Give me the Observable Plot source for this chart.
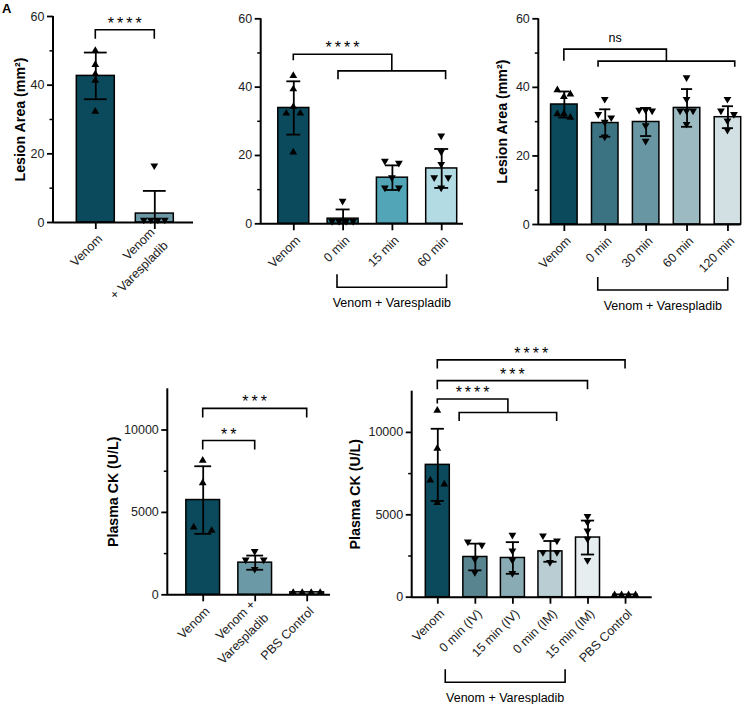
<!DOCTYPE html>
<html><head><meta charset="utf-8">
<script src="https://cdn.jsdelivr.net/npm/d3@7"></script>
<script src="https://cdn.jsdelivr.net/npm/@observablehq/plot@0.6"></script>
<style>
html,body{margin:0;padding:0;background:#fff;}
#fig{position:relative;width:756px;height:704px;overflow:hidden;font-family:"Liberation Sans",Arial,sans-serif;}
.letter{position:absolute;left:2px;top:1px;font:bold 13px "Liberation Sans",Arial,sans-serif;color:#000;}
</style></head><body>
<div id="fig"><div class="letter">A</div></div>
<script>
// ---------------- DATA ----------------
// Panel A (top left)
const aCategories = ["Venom", "Venom\n+ Varespladib"];
const aMeans = [42.7, 2.6];
const aSD = [6.8, 6.6];
const aPoints = [[50.1, 46.0, 43.3, 41.4, 32.4], [16.2, 0.4, 0.4, 0.4, 0.4]];
const aMarkers = ["up", "down"];
const aColors = ["#0b4a5c", "#6b99a5"];
const aTicks = [0, 20, 40, 60];
const aMinor = [10, 30, 50];
const aBrackets = [["Venom", "Venom\n+ Varespladib", 56, "****"]];

// Panel B (top middle)
const bCategories = ["Venom", "0 min", "15 min", "60 min"];
const bMeans = [33.9, 1.5, 13.5, 16.2];
const bSD = [7.8, 2.7, 3.6, 5.7];
const bPoints = [[43.4, 39.5, 34.3, 32.4, 32.4, 21.0], [6.3, 0.4, 0.4, 0.4, 0.4], [18.0, 17.4, 13.2, 10.2, 10.2], [25.4, 20.7, 17.1, 13.2, 13.2, 10.2]];
const bMarkers = ["up", "down", "down", "down"];
const bColors = ["#0b4a5c", "#2d7d93", "#52a5b7", "#b3dbe3"];
const bTicks = [0, 20, 40, 60];
const bMinor = [10, 30, 50];
const bNested = [["Venom", "0 min", "60 min", 49.5, 44.6, "****"]];
const bGroup = ["0 min", "60 min", "Venom + Varespladib"];

// Panel C (top right)
const cCategories = ["Venom", "0 min", "30 min", "60 min", "120 min"];
const cMeans = [35.0, 29.6, 29.9, 34.0, 31.3];
const cSD = [3.8, 4.0, 4.1, 5.5, 3.2];
const cPoints = [[39.3, 38.1, 37.3, 32.3, 32.3, 31.3], [36.2, 31.8, 30.8, 29.5, 25.2], [33.0, 32.8, 33.0, 28.5, 24.0], [42.5, 36.2, 32.8, 32.8, 32.8, 28.9], [36.2, 32.8, 31.8, 29.9, 27.2]];
const cMarkers = ["up", "down", "down", "down", "down"];
const cColors = ["#0b4a5c", "#3b7382", "#6896a2", "#9cbac2", "#d2e0e3"];
const cTicks = [0, 20, 40, 60];
const cMinor = [10, 30, 50];
const cNested = [["Venom", "0 min", "120 min", 51.0, 47.5, "ns"]];
const cGroup = ["0 min", "120 min", "Venom + Varespladib"];

// Panel D (bottom left)
const dCategories = ["Venom", "Venom +\nVarespladib", "PBS Control"];
const dMeans = [5750, 1950, 150];
const dSD = [2050, 430, 0];
const dPoints = [[8170, 6800, 4120, 3910], [2560, 2050, 2050, 1480], [150, 150, 150, 150]];
const dMarkers = ["up", "down", "up"];
const dColors = ["#0b4a5c", "#6b99a5", "#c9d9dc"];
const dTicks = [0, 5000, 10000];
const dMinor = [2500, 7500];
const dBrackets = [["Venom", "Venom +\nVarespladib", 9330, "**"], ["Venom", "PBS Control", 11280, "***"]];

// Panel E (bottom right)
const eCategories = ["Venom", "0 min (IV)", "15 min (IV)", "0 min (IM)", "15 min (IM)", "PBS Control"];
const eMeans = [8030, 2440, 2380, 2780, 3620, 150];
const eSD = [2190, 810, 960, 630, 1030, 0];
const ePoints = [[11340, 9040, 7110, 6870, 5750], [3290, 3090, 2240, 1430], [3700, 2740, 2180, 1370], [3660, 3350, 2650, 2650, 2040], [4840, 4470, 3960, 3460, 2170], [150, 150, 150, 150]];
const eMarkers = ["up", "down", "down", "down", "down", "up"];
const eColors = ["#0b4a5c", "#57848f", "#89abb4", "#b9cdd2", "#e6eef0", "#f4f7f8"];
const eTicks = [0, 5000, 10000];
const eMinor = [2500, 7500];
const eBrackets = [["Venom", "15 min (IM)", 13110, "***"], ["Venom", "PBS Control", 14370, "****"]];
const eNested = [["Venom", "0 min (IV)", "0 min (IM)", 12000, 11180, "****"]];
const eGroup = ["0 min (IV)", "15 min (IM)", "Venom + Varespladib"];

// ---------------- LAYOUT / STYLE ----------------
const panels = [
  {cats: aCategories, means: aMeans, sd: aSD, points: aPoints, markers: aMarkers, colors: aColors, ticks: aTicks, minor: aMinor,
   brackets: aBrackets, nested: [], group: null, title: "Lesion Area (mm²)",
   left: 0, top: 0, width: 200, height: 320, L: 53, R: 193, c0: 95.3, step: 59, bw: 38, y0: 222, yTop: 16, yMax: 60,
   titleDx: -33, capFrac: 0.6, jitter: 7, drop: 9},
  {cats: bCategories, means: bMeans, sd: bSD, points: bPoints, markers: bMarkers, colors: bColors, ticks: bTicks, minor: bMinor,
   brackets: [], nested: bNested, group: bGroup, title: null,
   left: 200, top: 0, width: 270, height: 320, L: 60.7, R: 263, c0: 93.3, step: 49.3, bw: 31, y0: 223.3, yTop: 18.3, yMax: 60,
   capFrac: 0.45, jitter: 7, drop: 8.3, leftDrop: 6, lowOff: [-4.6, 4.4], groupOff: [-5.6, 5.4], groupY: 287.3},
  {cats: cCategories, means: cMeans, sd: cSD, points: cPoints, markers: cMarkers, colors: cColors, ticks: cTicks, minor: cMinor,
   brackets: [], nested: cNested, group: cGroup, title: "Lesion Area (mm²)",
   left: 470, top: 0, width: 286, height: 320, L: 68.3, R: 270.7, c0: 94, step: 40.9, bw: 26.5, y0: 224, yTop: 18.3, yMax: 60,
   titleDx: -36.3, capFrac: 0.42, jitter: 6.5, drop: 5.7, leftDrop: 11.7, lowOff: [-6.7, 7.3], groupOff: [-7, 0.3], groupY: 290},
  {cats: dCategories, means: dMeans, sd: dSD, points: dPoints, markers: dMarkers, colors: dColors, ticks: dTicks, minor: dMinor,
   brackets: dBrackets, nested: [], group: null, title: "Plasma CK (U/L)",
   left: 60, top: 335, width: 270, height: 369, L: 107.3, R: 270, c0: 142.7, step: 52, bw: 33.7, y0: 259.3, yTop: 53.3, yMax: 12500,
   titleDx: -54.3, capFrac: 0.5, jitter: 9, drop: 9},
  {cats: eCategories, means: eMeans, sd: eSD, points: ePoints, markers: eMarkers, colors: eColors, ticks: eTicks, minor: eMinor,
   brackets: eBrackets, nested: eNested, group: eGroup, title: "Plasma CK (U/L)",
   left: 330, top: 335, width: 426, height: 369, L: 81.7, R: 321.7, c0: 107.3, step: 37.55, bw: 24, y0: 261.7, yTop: 55.7, yMax: 12500,
   titleDx: -56.7, capFrac: 0.55, jitter: 7, drop: 8.5, leftDrop: 4.5, lowOff: [-15.7, 6.7], groupOff: [-29.6, -22.4], groupY: 347.3}
];

const FONT = "Liberation Sans, Arial, Helvetica, sans-serif";
const TICK_FONT = 12.5;
const UP = "M0,-3.7L3.9,3L-3.9,3Z";
const DOWN = "M0,3.7L3.9,-3L-3.9,-3Z";

function bandOpts(L, R, c0, s, w, n) {
  const pi = 1 - w / s;
  const po = Math.max(0, ((R - L) / s - n + pi) / 2);
  const align = po > 0 ? Math.max(0, Math.min(1, (c0 - w / 2 - L) / (2 * po * s))) : 0.5;
  return {type: "band", domain: null, range: [L, R], paddingInner: pi, paddingOuter: po, align, round: false, label: null};
}
const center = (x, c) => x(c) + (typeof x.bandwidth === "function" ? x.bandwidth() / 2 : 0);

function spread(ys, s, th = 6) {
  const order = ys.map((_, i) => i).sort((a, b) => ys[a] - ys[b]);
  const off = new Array(ys.length).fill(0);
  let k = 0;
  while (k < order.length) {
    const row = [order[k]];
    let j = k + 1;
    while (j < order.length && ys[order[j]] - ys[order[k]] < th) row.push(order[j++]);
    const m = row.length;
    const slots = m === 2 ? [-s, s] : d3.range(m).map(r => (r - (m - 1) / 2) * s);
    slots.sort((a, b) => Math.abs(a) - Math.abs(b) || a - b);
    row.forEach((idx, r) => off[idx] = slots[r]);
    k = j;
  }
  return off;
}

function pointsMark(p) {
  return (index, {x, y}) => {
    const g = d3.create("svg:g").attr("fill", "black");
    p.cats.forEach((c, i) => {
      const ys = p.points[i].map(v => y(v));
      const offs = spread(ys, p.jitter);
      ys.forEach((py, k) => {
        g.append("path").attr("transform", `translate(${center(x, c) + offs[k]},${py})`)
          .attr("d", p.markers[i] === "up" ? UP : DOWN);
      });
    });
    return g.node();
  };
}

function yAxisLine(p) {
  return (index, {y}, values, dims) => {
    const g = d3.create("svg:g");
    g.append("line").attr("x1", dims.marginLeft).attr("x2", dims.marginLeft)
      .attr("y1", y(0) + 1).attr("y2", y(p.yMax)).attr("stroke", "black").attr("stroke-width", 2);
    return g.node();
  };
}

function label(g, x, yLine, text) {
  const stars = text.startsWith("*");
  g.append("text").attr("x", x + (stars ? 1.5 : 0)).attr("y", stars ? yLine - 1 : yLine - 7.5)
    .attr("text-anchor", "middle").attr("fill", "black").attr("stroke", "none")
    .attr("font-size", stars ? 16 : 12.5).attr("letter-spacing", stars ? 3 : 0)
    .attr("font-family", FONT).text(text);
}

function bracketMark(p) {
  return (index, {x, y}) => {
    const g = d3.create("svg:g").attr("fill", "none").attr("stroke", "black").attr("stroke-width", 1.6);
    for (const [a, b, v, t] of p.brackets) {
      const xa = center(x, a), xb = center(x, b), yy = y(v);
      g.append("path").attr("d", `M${xa},${yy + p.drop}V${yy}H${xb}V${yy + p.drop}`);
      label(g, (xa + xb) / 2, yy, t);
    }
    for (const [a, b1, b2, v1, v2, t] of p.nested) {
      const xa = center(x, a), x1 = center(x, b1) + p.lowOff[0], x2 = center(x, b2) + p.lowOff[1];
      const xm = (x1 + x2) / 2, yt = y(v1), yl = y(v2);
      g.append("path").attr("d", `M${xa},${yt + p.leftDrop}V${yt}H${xm}V${yl}`);
      g.append("path").attr("d", `M${x1},${yl + p.drop}V${yl}H${x2}V${yl + p.drop}`);
      label(g, (xa + xm) / 2, yt, t);
    }
    if (p.group) {
      const [a, b, t] = p.group;
      const xa = center(x, a) + p.groupOff[0], xb = center(x, b) + p.groupOff[1], yy = p.groupY;
      g.append("path").attr("d", `M${xa},${yy - 13}V${yy}H${xb}V${yy - 13}`);
      g.append("text").attr("x", (xa + xb) / 2).attr("y", yy + 19.5).attr("text-anchor", "middle")
        .attr("fill", "black").attr("stroke", "none").attr("font-size", 12.5).attr("font-family", FONT).text(t);
    }
    return g.node();
  };
}

const fig = document.getElementById("fig");
for (const p of panels) {
  const rows = p.cats.map((c, i) => ({cat: c, mean: p.means[i], sd: p.sd[i], color: p.colors[i],
    lo: Math.max(0, p.means[i] - p.sd[i]), hi: p.means[i] + p.sd[i], showLo: p.means[i] - p.sd[i] > 0}));
  const err = rows.filter(r => r.sd > 0);
  const inset = p.bw * (1 - p.capFrac) / 2;
  const x = bandOpts(p.L, p.R, p.c0, p.step, p.bw, p.cats.length);
  x.domain = p.cats;
  const marks = [
    Plot.barY(rows, {x: "cat", y: "mean", fill: "color", stroke: "black", strokeWidth: 1.5}),
    Plot.ruleX(err, {x: "cat", y1: "lo", y2: "hi", stroke: "black", strokeWidth: 1.8}),
    Plot.tickY(err, {x: "cat", y: "hi", stroke: "black", strokeWidth: 1.8, insetLeft: inset, insetRight: inset}),
    Plot.tickY(err.filter(r => r.showLo), {x: "cat", y: "lo", stroke: "black", strokeWidth: 1.8, insetLeft: inset, insetRight: inset}),
    pointsMark(p),
    Plot.ruleY([0], {stroke: "black", strokeWidth: 2}),
    yAxisLine(p),
    Plot.axisY({ticks: p.ticks, tickSize: 6, tickPadding: 3, tickFormat: d => String(d), fontSize: TICK_FONT, stroke: "black", strokeWidth: 1.8}),
    Plot.axisY({ticks: p.minor, tickSize: 3.5, tickFormat: () => "", stroke: "black", strokeWidth: 1.5}),
    Plot.axisX({tickSize: 7, tickFormat: () => "", stroke: "black", strokeWidth: 1.8}),
    Plot.axisX({tickSize: 0, tickPadding: 9, tickRotate: -45, dx: 3, dy: 4, lineHeight: 1.5, fontSize: TICK_FONT}),
    bracketMark(p)
  ];
  if (p.title) marks.push(Plot.text([p.title], {text: d => d, frameAnchor: "left", rotate: -90, dx: p.titleDx,
    fontSize: 14.2, fontWeight: "bold", fill: "black", textAnchor: "middle"}));
  const chart = Plot.plot({
    width: p.width, height: p.height,
    marginLeft: p.L, marginRight: p.width - p.R, marginTop: p.yTop, marginBottom: p.height - p.y0,
    x, y: {domain: [0, p.yMax], range: [p.y0, p.yTop], label: null},
    color: {type: "identity"},
    style: {fontFamily: FONT, fontSize: "12.5px", color: "#222", background: "transparent", overflow: "visible"},
    marks
  });
  Object.assign(chart.style, {position: "absolute", left: p.left + "px", top: p.top + "px"});
  fig.appendChild(chart);
}
</script>
</body></html>
